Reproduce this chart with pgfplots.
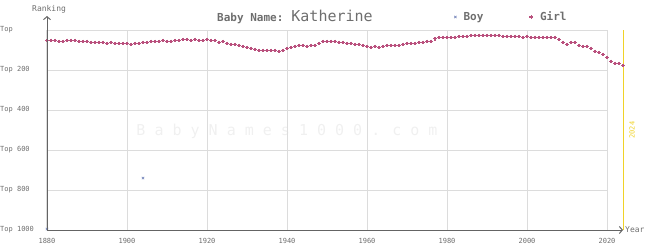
\documentclass[border=0pt]{standalone}
\usepackage{fontspec}
\setmainfont{DejaVu Sans Mono}
\setmonofont{DejaVu Sans Mono}
\usepackage{pgfplots}
\pgfplotsset{compat=1.18}
\usetikzlibrary{arrows.meta}
\definecolor{girl}{RGB}{185,80,125}
\definecolor{boy}{RGB}{125,140,190}
\definecolor{txt}{RGB}{110,110,110}
\definecolor{gridc}{RGB}{220,220,220}
\definecolor{axc}{RGB}{100,100,100}
\definecolor{yel}{RGB}{240,210,40}
\definecolor{wm}{RGB}{240,240,240}

\pgfplotstableread{
year rank
1880 52
1881 52
1882 52
1883 57
1884 57
1885 52
1886 52
1887 52
1888 57
1889 57
1890 57
1891 62
1892 62
1893 62
1894 62
1895 67
1896 62
1897 67
1898 67
1899 67
1900 67
1901 72
1902 67
1903 67
1904 62
1905 62
1906 57
1907 57
1908 57
1909 52
1910 57
1911 57
1912 52
1913 52
1914 47
1915 47
1916 52
1917 47
1918 52
1919 52
1920 47
1921 52
1922 52
1923 62
1924 57
1925 67
1926 72
1927 72
1928 77
1929 82
1930 87
1931 92
1932 97
1933 102
1934 102
1935 102
1936 102
1937 102
1938 107
1939 102
1940 92
1941 87
1942 82
1943 77
1944 77
1945 82
1946 77
1947 77
1948 67
1949 57
1950 57
1951 57
1952 57
1953 62
1954 62
1955 67
1956 67
1957 72
1958 72
1959 77
1960 82
1961 87
1962 82
1963 87
1964 82
1965 77
1966 77
1967 77
1968 77
1969 72
1970 67
1971 67
1972 67
1973 62
1974 62
1975 57
1976 57
1977 44
1978 37
1979 37
1980 37
1981 37
1982 37
1983 32
1984 32
1985 32
1986 27
1987 27
1988 27
1989 27
1990 27
1991 27
1992 27
1993 27
1994 32
1995 32
1996 32
1997 32
1998 32
1999 37
2000 32
2001 37
2002 37
2003 37
2004 37
2005 37
2006 37
2007 37
2008 47
2009 62
2010 72
2011 62
2012 62
2013 77
2014 82
2015 82
2016 92
2017 107
2018 112
2019 122
2020 137
2021 157
2022 167
2023 167
2024 177
}\girldata

\pgfplotstableread{
year rank
1880 995
1904 740
}\boydata

\begin{document}
\begin{tikzpicture}
\path[use as bounding box] (0,0) rectangle (645pt,250pt);
\node[text=wm, font=\fontsize{15}{16}\selectfont, inner sep=0pt] at (287pt,119pt) {B a b y N a m e s 1 0 0 0 . c o m};
\begin{axis}[
  at={(47pt,20pt)}, anchor=south west, scale only axis,
  width=560pt, height=200pt,
  xmin=1880, xmax=2020, ymin=0, ymax=1000, y dir=reverse, clip=false,
  axis line style={draw=none},
  xtick={1880,1900,...,2020},
  xticklabels={1880,1900,1920,1940,1960,1980,2000,2020},
  ytick={0,200,...,1000},
  yticklabels={Top,Top 200,Top 400,Top 600,Top 800,Top 1000},
  major tick length=0pt,
  grid=major,
  major grid style={gridc, line width=1pt},
  tick label style={font=\fontsize{7}{8}\selectfont, text=txt},
  yticklabel style={anchor=west, xshift=-47pt, inner sep=0pt},
  xticklabel style={yshift=-5pt},
  legend columns=2,
  legend style={draw=none, fill=none, inner sep=0pt, at={(0.727,1.065)}, anchor=west,
    font=\bfseries\fontsize{11}{12}\selectfont, text=txt,
    /tikz/every odd column/.append style={column sep=5pt},
    /tikz/every even column/.append style={column sep=44pt}},
  legend image code/.code={\draw[#1] plot coordinates {(0pt,0pt)};},
]
\addplot[only marks, mark=x, mark size=1.6pt, color=boy, mark options={draw=boy}, line width=0.7pt] table[x=year,y=rank] {\boydata};
\addlegendentry{Boy}
\addplot[only marks, mark=+, mark size=1.8pt, color=girl, mark options={draw=girl}, line width=1.1pt] table[x=year,y=rank] {\girldata};
\addlegendentry{Girl}
\draw[yel, line width=1pt] (axis cs:2024,0) -- (axis cs:2024,1000);
\end{axis}
\draw[axc, line width=1pt, -{Straight Barb[length=3pt,width=7pt]}] (47pt,20pt) -- (47pt,234pt);
\draw[axc, line width=1pt, -{Straight Barb[length=3pt,width=7pt]}] (47pt,20pt) -- (623pt,20pt);
\node[anchor=base west, inner sep=0pt, text=txt] at (217pt,229pt) {\bfseries\fontsize{11}{12}\selectfont Baby Name:\hspace{8pt}\mdseries\fontsize{15}{16}\selectfont Katherine};
\node[anchor=base west, inner sep=0pt, text=txt, font=\fontsize{8}{9}\selectfont] at (32pt,239pt) {Ranking};
\node[anchor=west, inner sep=0pt, text=txt, font=\fontsize{8}{9}\selectfont] at (625pt,20pt) {Year};
\node[rotate=90, inner sep=0pt, text=yel, font=\fontsize{7}{8}\selectfont] at (632pt,120pt) {2024};
\end{tikzpicture}
\end{document}
